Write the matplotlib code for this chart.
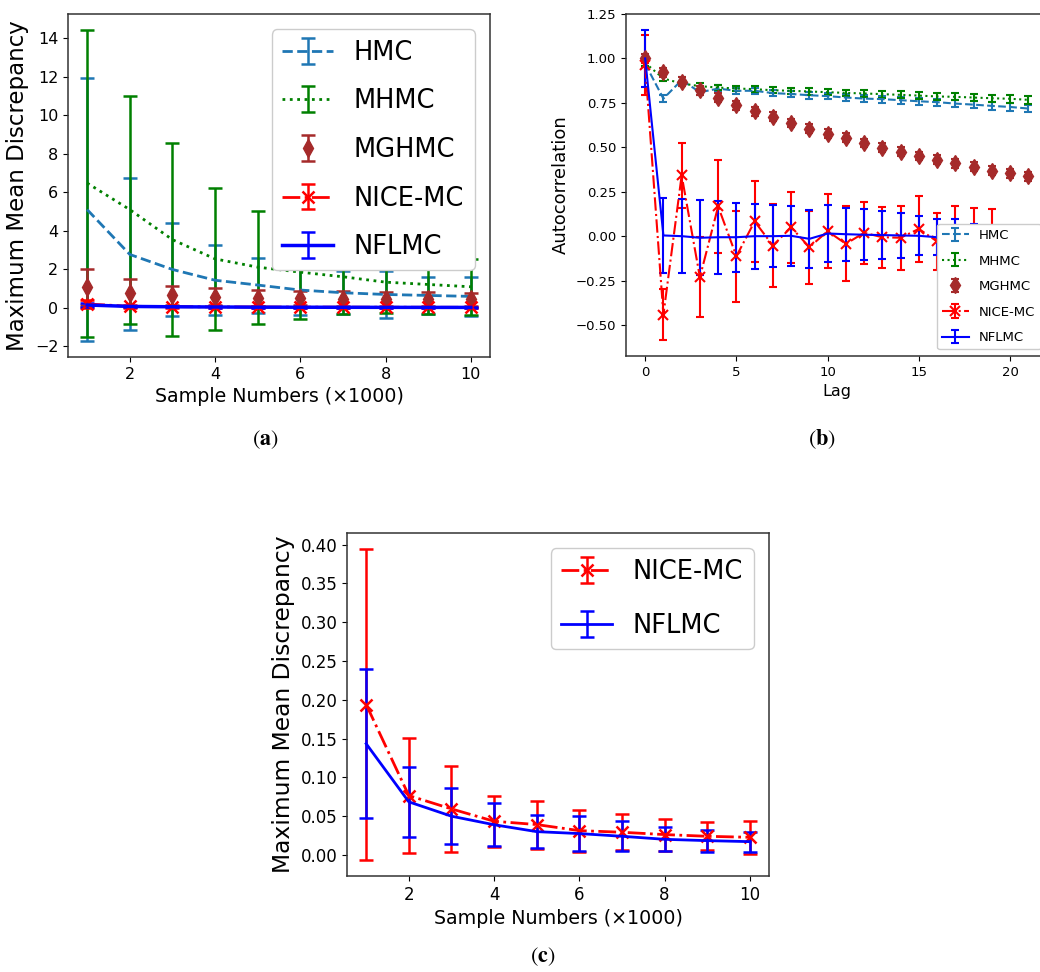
import matplotlib
matplotlib.use("Agg")
import matplotlib.pyplot as plt

# ---- (a) / (c): MMD versus number of samples (thousands) ----
sample_k = [1, 2, 3, 4, 5, 6, 7, 8, 9, 10]

hmc_mmd = [5.10, 2.77, 1.99, 1.43, 1.18, 0.92, 0.78, 0.69, 0.64, 0.59]
hmc_mmd_err = [6.85, 3.95, 2.43, 1.83, 1.43, 1.32, 1.12, 1.20, 0.97, 1.00]

mhmc_mmd = [6.48, 5.10, 3.54, 2.54, 2.11, 1.85, 1.61, 1.33, 1.21, 1.09]
mhmc_mmd_err = [7.98, 5.92, 5.02, 3.68, 2.93, 2.45, 1.96, 1.60, 1.52, 1.47]

mghmc_mmd = [1.07, 0.78, 0.64, 0.57, 0.52, 0.50, 0.48, 0.46, 0.45, 0.44]
mghmc_mmd_err = [0.93, 0.72, 0.48, 0.45, 0.41, 0.38, 0.37, 0.36, 0.35, 0.34]

nice_mmd = [0.194, 0.0766, 0.0594, 0.0435, 0.0392, 0.0314, 0.0293, 0.0263, 0.0241, 0.0228]
nice_mmd_err = [0.201, 0.0745, 0.055, 0.033, 0.031, 0.0272, 0.0232, 0.0206, 0.0181, 0.0215]

nflmc_mmd = [0.1434, 0.0685, 0.050, 0.039, 0.0301, 0.0276, 0.0241, 0.0202, 0.0185, 0.0172]
nflmc_mmd_err = [0.096, 0.0455, 0.036, 0.0275, 0.021, 0.023, 0.0194, 0.0155, 0.0142, 0.0128]

# ---- (b): autocorrelation versus lag ----
lags_long = list(range(22))
lags_short = list(range(20))

hmc_ac = [0.970, 0.774, 0.878, 0.810, 0.830, 0.818, 0.818, 0.805, 0.800, 0.793, 0.788,
          0.780, 0.774, 0.771, 0.765, 0.759, 0.754, 0.746, 0.740, 0.733, 0.727, 0.718]
hmc_ac_err = [0.020, 0.020, 0.020, 0.018, 0.018, 0.018, 0.018, 0.018, 0.018, 0.019, 0.019,
              0.019, 0.019, 0.020, 0.020, 0.020, 0.020, 0.021, 0.021, 0.021, 0.022, 0.022]

mhmc_ac = [0.975, 0.887, 0.859, 0.844, 0.836, 0.831, 0.827, 0.821, 0.818, 0.814, 0.810,
           0.806, 0.803, 0.799, 0.795, 0.791, 0.786, 0.784, 0.780, 0.776, 0.773, 0.767]
mhmc_ac_err = [0.015, 0.015, 0.015, 0.016, 0.016, 0.016, 0.017, 0.017, 0.017, 0.018, 0.018,
               0.018, 0.019, 0.019, 0.019, 0.020, 0.020, 0.020, 0.021, 0.021, 0.021, 0.022]

mghmc_ac = [1.000, 0.921, 0.868, 0.821, 0.778, 0.737, 0.703, 0.671, 0.637, 0.605, 0.577,
            0.553, 0.524, 0.498, 0.474, 0.451, 0.429, 0.410, 0.391, 0.368, 0.353, 0.336]
mghmc_ac_err = [0.025, 0.025, 0.025, 0.025, 0.025, 0.025, 0.025, 0.025, 0.025, 0.025, 0.025,
                0.025, 0.025, 0.025, 0.025, 0.025, 0.025, 0.025, 0.025, 0.025, 0.025, 0.025]

nice_ac = [0.962, -0.442, 0.342, -0.231, 0.167, -0.113, 0.083, -0.053, 0.050, -0.062,
           0.028, -0.043, 0.019, -0.006, -0.009, 0.041, -0.030, 0.000, -0.010, -0.015]
nice_ac_err = [0.170, 0.145, 0.183, 0.225, 0.260, 0.257, 0.230, 0.235, 0.200, 0.205,
               0.207, 0.210, 0.176, 0.171, 0.180, 0.185, 0.160, 0.170, 0.170, 0.170]

nflmc_ac = [1.000, 0.004, 0.000, -0.009, -0.006, -0.006, 0.000, 0.000, 0.002, -0.015,
            0.015, 0.011, 0.008, 0.006, 0.004, 0.002, -0.006, 0.000, 0.000, 0.000]
nflmc_ac_err = [0.158, 0.210, 0.208, 0.210, 0.205, 0.195, 0.183, 0.175, 0.169, 0.165,
                0.158, 0.150, 0.143, 0.136, 0.126, 0.110, 0.100, 0.095, 0.070, 0.050]

W, H = 1040, 972
fig = plt.figure(figsize=(W / 100, H / 100), dpi=100)


def box(left, top, right, bottom):
    return [left / W, 1 - bottom / H, (right - left) / W, (bottom - top) / H]


def style_spines(ax):
    for s in ax.spines.values():
        s.set_color("#333333")
        s.set_linewidth(1.1)


# ---------------- (a) ----------------
ax_a = fig.add_axes(box(68, 14, 490, 357))
kw = dict(capsize=5, elinewidth=1.8, linewidth=2.0, capthick=1.8)
ax_a.errorbar(sample_k, hmc_mmd, yerr=hmc_mmd_err, color="#1f77b4", linestyle="--", label="HMC", **kw)
ax_a.errorbar(sample_k, mhmc_mmd, yerr=mhmc_mmd_err, color="green", linestyle=":", label="MHMC", **kw)
ax_a.errorbar(sample_k, mghmc_mmd, yerr=mghmc_mmd_err, color="brown", fmt="d", markersize=9,
              capsize=5, elinewidth=1.8, capthick=1.8, label="MGHMC")
ax_a.errorbar(sample_k, nice_mmd, yerr=nice_mmd_err, color="red", linestyle="-.", marker="x",
              markersize=8, markeredgewidth=1.8, label="NICE-MC", **kw)
ax_a.errorbar(sample_k, nflmc_mmd, yerr=nflmc_mmd_err, color="blue", linestyle="-",
              capsize=5, elinewidth=1.8, linewidth=2.5, capthick=1.8, label="NFLMC")
ax_a.set_xticks([2, 4, 6, 8, 10])
ax_a.set_xlabel("Sample Numbers (×1000)", fontsize=13.7)
ax_a.set_ylabel("Maximum Mean Discrepancy", fontsize=16.5)
ax_a.tick_params(labelsize=11.5)
ax_a.legend(loc="upper right", fontsize=18.5, labelspacing=0.88, borderaxespad=0.6,
            framealpha=1.0)
style_spines(ax_a)

# ---------------- (b) ----------------
ax_b = fig.add_axes(box(626, 14, 1047.5, 356))
kb = dict(capsize=3, elinewidth=1.5, linewidth=1.5, capthick=1.5)
ax_b.errorbar(lags_long, hmc_ac, yerr=hmc_ac_err, color="#1f77b4", linestyle="--", label="HMC", **kb)
ax_b.errorbar(lags_long, mhmc_ac, yerr=mhmc_ac_err, color="green", linestyle=":", label="MHMC", **kb)
ax_b.errorbar(lags_long, mghmc_ac, yerr=mghmc_ac_err, color="brown", fmt="d", markersize=8,
              capsize=3, elinewidth=1.5, capthick=1.5, label="MGHMC")
ax_b.errorbar(lags_short, nice_ac, yerr=nice_ac_err, color="red", linestyle="-.", marker="x",
              markersize=7, markeredgewidth=1.5, label="NICE-MC", **kb)
ax_b.errorbar(lags_short, nflmc_ac, yerr=nflmc_ac_err, color="blue", linestyle="-", label="NFLMC", **kb)
ax_b.set_xticks([0, 5, 10, 15, 20])
ax_b.set_yticks([-0.5, -0.25, 0.0, 0.25, 0.5, 0.75, 1.0, 1.25])
ax_b.set_xlabel("Lag", fontsize=11.5)
ax_b.set_ylabel("Autocorrelation", fontsize=13)
ax_b.tick_params(labelsize=9.5)
ax_b.legend(loc="lower right", fontsize=9.5, labelspacing=0.95, framealpha=1.0)
style_spines(ax_b)

# ---------------- (c) ----------------
ax_c = fig.add_axes(box(347, 533, 769, 876))
ax_c.errorbar(sample_k, nice_mmd, yerr=nice_mmd_err, color="red", linestyle="-.", marker="x",
              markersize=8, markeredgewidth=1.8, label="NICE-MC", **kw)
ax_c.errorbar(sample_k, nflmc_mmd, yerr=nflmc_mmd_err, color="blue", linestyle="-", label="NFLMC", **kw)
ax_c.set_xticks([2, 4, 6, 8, 10])
ax_c.set_yticks([0.0, 0.05, 0.10, 0.15, 0.20, 0.25, 0.30, 0.35, 0.40])
ax_c.set_xlabel("Sample Numbers (×1000)", fontsize=13.7)
ax_c.set_ylabel("Maximum Mean Discrepancy", fontsize=16.8)
ax_c.tick_params(labelsize=12)
ax_c.legend(loc="upper right", fontsize=18.5, labelspacing=1.1, borderaxespad=0.6,
            framealpha=1.0)
style_spines(ax_c)

# ---------------- sub-captions ----------------
for label, (cx, cy) in zip(["a", "b", "c"], [(265, 440), (822, 439), (543, 957)]):
    fig.text(cx / W, 1 - cy / H, r"$(\mathbf{%s})$" % label, ha="center", va="center",
             fontsize=16, math_fontfamily="stix")

fig.savefig("out.png", dpi=100)
